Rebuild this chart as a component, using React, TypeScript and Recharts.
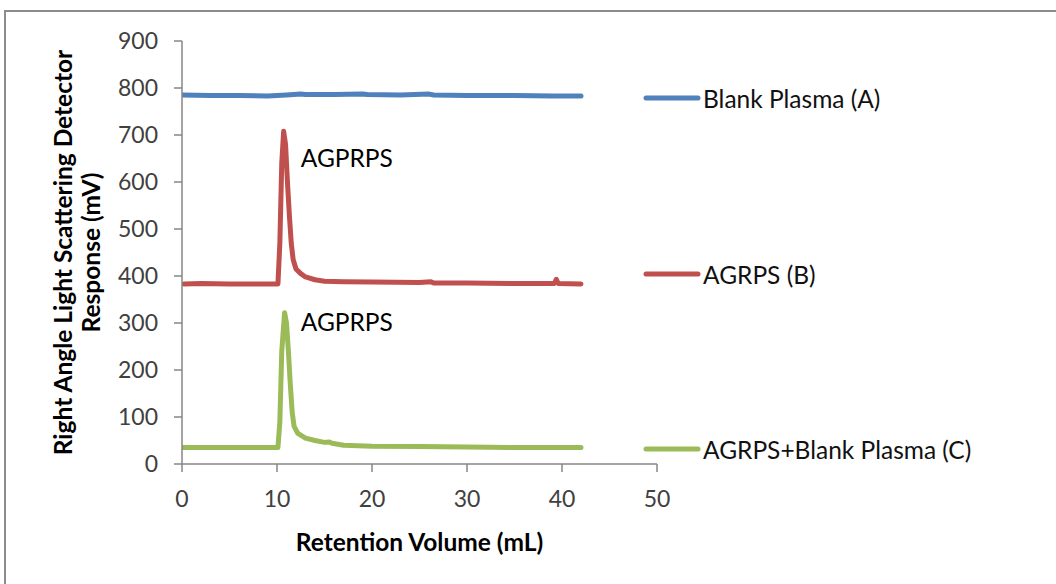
import React from "react";
import {
  LineChart,
  Line,
  XAxis,
  YAxis,
  Legend,
  Label,
  ReferenceDot,
} from "recharts";

// ---- Data ----
const xTicks = [0, 10, 20, 30, 40, 50];
const yTicks = [0, 100, 200, 300, 400, 500, 600, 700, 800, 900];

const blankVolume = [0, 3, 6, 9, 11, 12.5, 13, 16, 19, 19.5, 23, 26, 26.5, 30, 35, 39, 42];
const blankResponse = [785, 784, 784, 783, 785, 787, 786, 786, 787, 786, 785, 787, 785, 784, 784, 783, 783];

const agrpsVolume = [0.2, 2, 5, 8, 10.1, 10.3, 10.5, 10.7, 10.9, 11.1, 11.3, 11.5, 11.7, 12, 12.5, 13, 14, 15, 17, 20, 25, 26.2, 26.5, 30, 35, 39.2, 39.4, 39.6, 42];
const agrpsResponse = [383, 384, 383, 383, 383, 470, 640, 708, 680, 600, 530, 470, 435, 415, 405, 398, 392, 389, 388, 387, 386, 388, 385, 385, 384, 384, 393, 384, 383];

const mixVolume = [0, 5, 10.1, 10.3, 10.5, 10.8, 11.0, 11.2, 11.4, 11.6, 11.8, 12.2, 13, 14, 15, 15.5, 15.8, 17, 20, 25, 30, 35, 42];
const mixResponse = [35, 35, 35, 90, 240, 322, 300, 240, 170, 110, 80, 65, 55, 50, 46, 47, 44, 40, 38, 37, 36, 35, 35];

const seriesNames = ["Blank Plasma (A)", "AGRPS (B)", "AGRPS+Blank Plasma (C)"];
const seriesColors = ["#4F81BD", "#C0504D", "#9BBB59"];

const annotationText = "AGPRPS";
const annotationX = [12.5, 12.5];
const annotationY = [652, 304];

const xTitle = "Retention Volume (mL)";
const yTitleLines = ["Right Angle Light Scattering Detector", "Response (mV)"];

const toPoints = (xs: number[], ys: number[]) => xs.map((x, i) => ({ x, y: ys[i] }));
const blankData = toPoints(blankVolume, blankResponse);
const agrpsData = toPoints(agrpsVolume, agrpsResponse);
const mixData = toPoints(mixVolume, mixResponse);

const FONT = "Lato, 'Noto Sans', sans-serif";
const AXIS = "#868686";
const TICK_TEXT = "#404040";
const LINE_W = 5;

const LegendContent = () => {
  const tops = [0, 176, 351];
  return (
    <div style={{ position: "relative", width: 420, height: 380, fontFamily: FONT }}>
      {seriesNames.map((name, i) => (
        <div
          key={name}
          style={{
            position: "absolute",
            left: 0,
            top: tops[i],
            display: "flex",
            alignItems: "center",
            height: 28,
          }}
        >
          <svg width={58} height={10} style={{ display: "block" }}>
            <line x1={3} y1={5} x2={55} y2={5} stroke={seriesColors[i]} strokeWidth={LINE_W} strokeLinecap="round" />
          </svg>
          <span style={{ fontSize: 24.5, color: "#111", whiteSpace: "nowrap", marginLeft: 2 }}>{name}</span>
        </div>
      ))}
    </div>
  );
};

const YTitle = (props: any) => {
  const vb = props.viewBox || { y: 41, height: 423 };
  const cy = vb.y + vb.height / 2;
  const xs = [62, 90];
  return (
    <g>
      {yTitleLines.map((t, i) => (
        <text
          key={t}
          x={xs[i]}
          y={cy}
          transform={`rotate(-90 ${xs[i]} ${cy})`}
          textAnchor="middle"
          dominantBaseline="central"
          fontFamily={FONT}
          fontWeight="bold"
          fontSize={24.5}
          fill="#000"
        >
          {t}
        </text>
      ))}
    </g>
  );
};

const XTitle = (props: any) => {
  const vb = props.viewBox || { x: 182, width: 475 };
  const cx = vb.x + vb.width / 2;
  return (
    <text
      x={cx}
      y={541}
      textAnchor="middle"
      dominantBaseline="central"
      fontFamily={FONT}
      fontWeight="bold"
      fontSize={24.5}
      fill="#000"
    >
      {xTitle}
    </text>
  );
};

const AnnotationLabel = (props: any) => {
  const vb = props.viewBox || { x: 0, y: 0 };
  return (
    <text
      x={vb.x}
      y={vb.y}
      textAnchor="start"
      dominantBaseline="central"
      fontFamily={FONT}
      fontSize={24.5}
      fill="#000"
    >
      {annotationText}
    </text>
  );
};

export default function App() {
  return (
    <div style={{ position: "absolute", left: 0, top: 0, width: 1056, height: 584, background: "#fff" }}>
      <div
        style={{
          position: "absolute",
          left: 4,
          top: 10,
          width: 1060,
          height: 580,
          borderTop: "2px solid #8c8c8c",
          borderLeft: "2px solid #8c8c8c",
          boxSizing: "border-box",
        }}
      />
      <div style={{ position: "absolute", left: 0, top: 0 }}>
        <LineChart
          width={1056}
          height={584}
          margin={{ top: 41, right: 399, bottom: 90, left: 122 }}
        >
          <XAxis
            type="number"
            dataKey="x"
            domain={[0, 50]}
            ticks={xTicks}
            allowDataOverflow
            axisLine={{ stroke: AXIS, strokeWidth: 1.5 }}
            tickLine={{ stroke: AXIS, strokeWidth: 1.5 }}
            tickSize={8}
            tickMargin={19}
            tick={{ fill: TICK_TEXT, fontSize: 23, fontFamily: FONT }}
            height={30}
          >
            <Label content={<XTitle />} />
          </XAxis>
          <YAxis
            type="number"
            dataKey="y"
            domain={[0, 900]}
            ticks={yTicks}
            allowDataOverflow
            axisLine={{ stroke: AXIS, strokeWidth: 1.5 }}
            tickLine={{ stroke: AXIS, strokeWidth: 1.5 }}
            tickSize={8}
            tickMargin={16}
            tick={{ fill: TICK_TEXT, fontSize: 23, fontFamily: FONT }}
            width={60}
          >
            <Label content={<YTitle />} />
          </YAxis>
          <Legend
            layout="vertical"
            align="center"
            verticalAlign="middle"
            content={<LegendContent />}
            wrapperStyle={{ left: 643, top: 84, width: 420 }}
          />
          <Line
            data={blankData}
            dataKey="y"
            name={seriesNames[0]}
            stroke={seriesColors[0]}
            strokeWidth={LINE_W}
            strokeLinecap="round"
            strokeLinejoin="round"
            dot={false}
            type="linear"
            isAnimationActive={false}
          />
          <Line
            data={agrpsData}
            dataKey="y"
            name={seriesNames[1]}
            stroke={seriesColors[1]}
            strokeWidth={LINE_W}
            strokeLinecap="round"
            strokeLinejoin="round"
            dot={false}
            type="linear"
            isAnimationActive={false}
          />
          <Line
            data={mixData}
            dataKey="y"
            name={seriesNames[2]}
            stroke={seriesColors[2]}
            strokeWidth={LINE_W}
            strokeLinecap="round"
            strokeLinejoin="round"
            dot={false}
            type="linear"
            isAnimationActive={false}
          />
          {annotationX.map((ax, i) => (
            <ReferenceDot
              key={i}
              x={ax}
              y={annotationY[i]}
              r={0}
              fill="none"
              stroke="none"
              label={<AnnotationLabel />}
            />
          ))}
        </LineChart>
      </div>
    </div>
  );
}
